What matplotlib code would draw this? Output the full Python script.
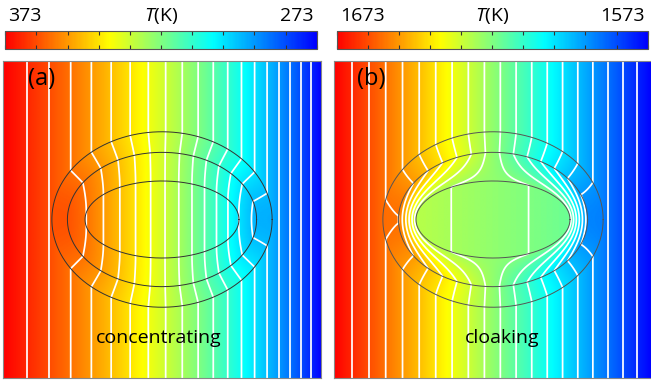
import numpy as np
import matplotlib
matplotlib.use("Agg")
import matplotlib.pyplot as plt
from matplotlib.colors import LinearSegmentedColormap, Normalize
from matplotlib.cm import ScalarMappable

plt.rcParams['font.family'] = ['Open Sans', 'DejaVu Sans']
plt.rcParams['mathtext.fontset'] = 'custom'
plt.rcParams['mathtext.it'] = 'Open Sans:italic'
plt.rcParams['mathtext.rm'] = 'Open Sans'

# ---------------- data ----------------
panel_labels = ["(a)", "(b)"]
captions = ["concentrating", "cloaking"]
t_hot = [373, 1673]          # left boundary temperature (K)
t_cold = [273, 1573]         # right boundary temperature (K)
isotherm_step = 5            # K between white isotherms
colorbar_tick_step = 10      # K between colorbar ticks
focal_half_distance = 0.42   # confocal ellipses (panel half-width = 1)
ellipse_semi_major = [0.485, 0.596, 0.694]   # core / inner shell / outer shell
# material parameters of each region: anisotropy m = sqrt(k_eta/k_xi), strength k = sqrt(k_xi*k_eta)
core_k = [1.0, 1.0]
shell1_m = [0.35, 1.0]
shell1_k = [1.0, 0.03]
shell2_m = [0.35, 1.0]       # shell2 strength is tuned so the outside field is undisturbed
cmap_colors = ["#0000ff", "#00ffff", "#ffff00", "#ff0000"]


def layer_coefs(xis, mc, m1, k1, m2, k2):
    v = np.cosh(xis[0]); w = mc * np.sinh(xis[0])
    ms = [m1, m2, 1.0]; ks = [k1, k2, 1.0]
    coefs = []
    for i in range(3):
        m, k = ms[i], ks[i]
        ch, sh = np.cosh(m * xis[i]), np.sinh(m * xis[i])
        A = ch * v - sh * w / (k * m)
        B = -sh * v + ch * w / (k * m)
        coefs.append((m, A, B))
        if i < 2:
            ch1, sh1 = np.cosh(m * xis[i + 1]), np.sinh(m * xis[i + 1])
            v = A * ch1 + B * sh1
            w = k * m * (A * sh1 + B * ch1)
    return coefs


def tune_k2(xis, kc, m1, k1, m2):
    grid = np.logspace(-3, 3, 600)
    q = np.array([layer_coefs(xis, kc, m1, k1, m2, g)[2][2] for g in grid])
    idx = np.where(np.sign(q[:-1]) != np.sign(q[1:]))[0]
    lo, hi = np.log(grid[idx[0]]), np.log(grid[idx[0] + 1])
    qlo = layer_coefs(xis, kc, m1, k1, m2, np.exp(lo))[2][2]
    for _ in range(80):
        mid = 0.5 * (lo + hi)
        qm = layer_coefs(xis, kc, m1, k1, m2, np.exp(mid))[2][2]
        if np.sign(qm) == np.sign(qlo):
            lo, qlo = mid, qm
        else:
            hi = mid
    return np.exp(0.5 * (lo + hi))


c = focal_half_distance
xis = [np.arccosh(a / c) for a in ellipse_semi_major]

cmap = LinearSegmentedColormap.from_list("rb", cmap_colors)

W, H = 651, 386
fig = plt.figure(figsize=(W / 100, H / 100), dpi=100)

N = 600
xs = np.linspace(-1, 1, N)
X, Y = np.meshgrid(xs, xs)
Z = np.arccosh((X + 1j * Y) / c)
XI, ETA = Z.real, Z.imag
CE = np.cos(ETA)

panel_left = [3.3, 334.3]
cbar_left = [5.3, 336.7]
cbar_right = [316.7, 647.7]
for p in range(2):
    th, tc = t_hot[p], t_cold[p]
    kc = core_k[p]
    k2 = tune_k2(xis, kc, shell1_m[p], shell1_k[p], shell2_m[p])
    coefs = layer_coefs(xis, kc, shell1_m[p], shell1_k[p], shell2_m[p], k2)
    P, Q = coefs[2][1], coefs[2][2]
    s = c / (P + Q)
    psi = s * np.cosh(XI) * CE
    bounds = xis + [np.inf]
    for i in range(3):
        m, A, B = coefs[i]
        mask = (XI >= bounds[i]) & (XI < bounds[i + 1])
        psi = np.where(mask, s * (A * np.cosh(m * XI) + B * np.sinh(m * XI)) * CE, psi)
    ph, pc = float(th) ** 4, float(tc) ** 4
    phi = 0.5 * (ph + pc) + 0.5 * (pc - ph) * psi
    T = phi ** 0.25

    ax = fig.add_axes([panel_left[p] / W, 1 - 378.3 / H, 317.4 / W, 317.6 / H])
    norm = Normalize(vmin=tc, vmax=th)
    ax.imshow(T, extent=[-1, 1, -1, 1], origin="lower", cmap=cmap, norm=norm,
              interpolation="bilinear", aspect="auto")
    levels = np.arange(tc + isotherm_step, th, isotherm_step)
    ax.contour(X, Y, T, levels=levels, colors="white", linewidths=1.25)
    tt = np.linspace(0, 2 * np.pi, 400)
    for xi in xis:
        ax.plot(c * np.cosh(xi) * np.cos(tt), c * np.sinh(xi) * np.sin(tt),
                color="#333333" if p == 0 else "#555555", lw=0.7)
    ax.set_xlim(-1, 1); ax.set_ylim(-1, 1)
    ax.set_xticks([]); ax.set_yticks([])
    for sp in ax.spines.values():
        sp.set_color("#888888"); sp.set_linewidth(0.8)
    ax.text([-0.759, -0.769][p], 0.885, panel_labels[p], fontsize=17,
            ha="center", va="center", color="black")
    ax.text([-0.019, 0.055][p], -0.746, captions[p], fontsize=14,
            ha="center", va="center", color="black")

    cax = fig.add_axes([cbar_left[p] / W, 1 - 49.3 / H,
                        (cbar_right[p] - cbar_left[p]) / W, 18.3 / H])
    cb = fig.colorbar(ScalarMappable(norm=norm, cmap=cmap), cax=cax, orientation="horizontal")
    cax.invert_xaxis()
    cb.set_ticks(np.arange(tc, th + 1, colorbar_tick_step))
    cax.tick_params(axis="x", direction="in", top=True, bottom=True, length=3,
                    width=0.8, color="#333333", labelbottom=False, labeltop=False)
    cb.outline.set_edgecolor("#555555"); cb.outline.set_linewidth(0.8)

    fig.text(cbar_left[p] / W + 3 / W, 1 - 21 / H, str(th), fontsize=14, ha="left", va="baseline")
    fig.text(cbar_right[p] / W - 3 / W, 1 - 21 / H, str(tc), fontsize=14, ha="right", va="baseline")
    fig.text((cbar_left[p] + cbar_right[p]) / 2 / W, 1 - 21 / H, r"$T$(K)", fontsize=14,
             ha="center", va="baseline")

fig.savefig("out.png", dpi=100)
